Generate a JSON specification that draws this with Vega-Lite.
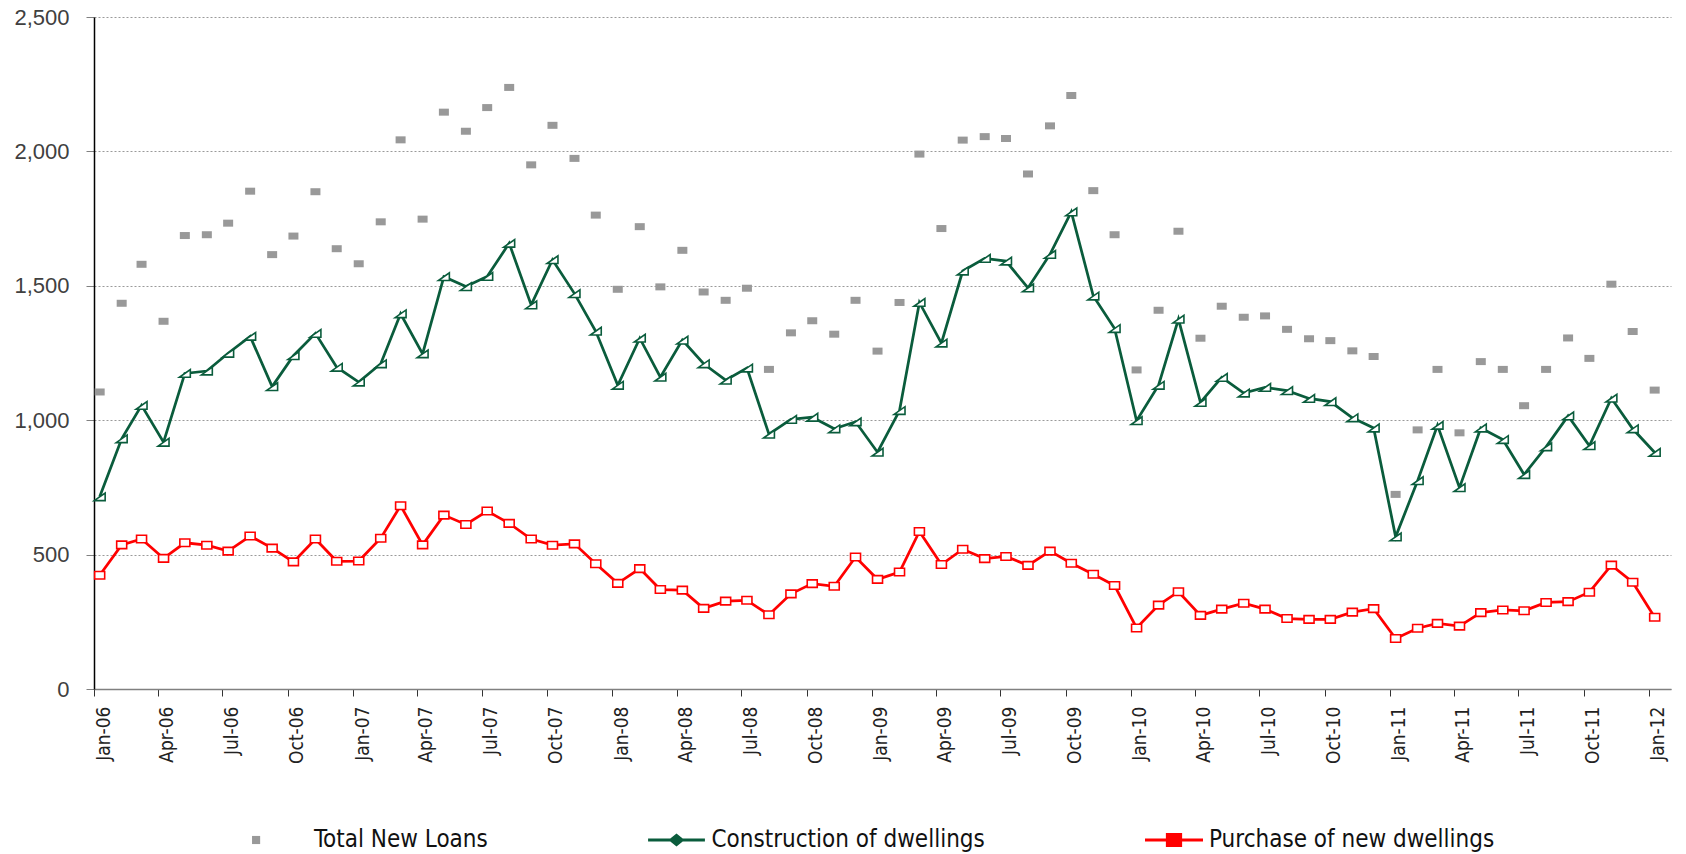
{
  "$schema": "https://vega.github.io/schema/vega-lite/v6.json",
  "width": 1577,
  "height": 672,
  "autosize": "none",
  "padding": {"left": 94, "top": 17, "right": 15, "bottom": 165},
  "background": "white",
  "config": {"view": {"stroke": null}, "font": "Liberation Sans"},
  "data": {"values": [
    {"date":"2006-01-09","series":"Total New Loans","value":1105},
    {"date":"2006-02-09","series":"Total New Loans","value":1435},
    {"date":"2006-03-09","series":"Total New Loans","value":1580},
    {"date":"2006-04-09","series":"Total New Loans","value":1368},
    {"date":"2006-05-09","series":"Total New Loans","value":1687},
    {"date":"2006-06-09","series":"Total New Loans","value":1690},
    {"date":"2006-07-09","series":"Total New Loans","value":1733},
    {"date":"2006-08-09","series":"Total New Loans","value":1852},
    {"date":"2006-09-09","series":"Total New Loans","value":1616},
    {"date":"2006-10-09","series":"Total New Loans","value":1685},
    {"date":"2006-11-09","series":"Total New Loans","value":1850},
    {"date":"2006-12-09","series":"Total New Loans","value":1638},
    {"date":"2007-01-09","series":"Total New Loans","value":1582},
    {"date":"2007-02-09","series":"Total New Loans","value":1738},
    {"date":"2007-03-09","series":"Total New Loans","value":2043},
    {"date":"2007-04-09","series":"Total New Loans","value":1748},
    {"date":"2007-05-09","series":"Total New Loans","value":2146},
    {"date":"2007-06-09","series":"Total New Loans","value":2075},
    {"date":"2007-07-09","series":"Total New Loans","value":2163},
    {"date":"2007-08-09","series":"Total New Loans","value":2238},
    {"date":"2007-09-09","series":"Total New Loans","value":1950},
    {"date":"2007-10-09","series":"Total New Loans","value":2097},
    {"date":"2007-11-09","series":"Total New Loans","value":1974},
    {"date":"2007-12-09","series":"Total New Loans","value":1763},
    {"date":"2008-01-09","series":"Total New Loans","value":1487},
    {"date":"2008-02-09","series":"Total New Loans","value":1720},
    {"date":"2008-03-09","series":"Total New Loans","value":1496},
    {"date":"2008-04-09","series":"Total New Loans","value":1632},
    {"date":"2008-05-09","series":"Total New Loans","value":1477},
    {"date":"2008-06-09","series":"Total New Loans","value":1446},
    {"date":"2008-07-09","series":"Total New Loans","value":1491},
    {"date":"2008-08-09","series":"Total New Loans","value":1189},
    {"date":"2008-09-09","series":"Total New Loans","value":1325},
    {"date":"2008-10-09","series":"Total New Loans","value":1370},
    {"date":"2008-11-09","series":"Total New Loans","value":1320},
    {"date":"2008-12-09","series":"Total New Loans","value":1446},
    {"date":"2009-01-09","series":"Total New Loans","value":1257},
    {"date":"2009-02-09","series":"Total New Loans","value":1438},
    {"date":"2009-03-09","series":"Total New Loans","value":1990},
    {"date":"2009-04-09","series":"Total New Loans","value":1713},
    {"date":"2009-05-09","series":"Total New Loans","value":2042},
    {"date":"2009-06-09","series":"Total New Loans","value":2055},
    {"date":"2009-07-09","series":"Total New Loans","value":2048},
    {"date":"2009-08-09","series":"Total New Loans","value":1916},
    {"date":"2009-09-09","series":"Total New Loans","value":2095},
    {"date":"2009-10-09","series":"Total New Loans","value":2208},
    {"date":"2009-11-09","series":"Total New Loans","value":1854},
    {"date":"2009-12-09","series":"Total New Loans","value":1690},
    {"date":"2010-01-09","series":"Total New Loans","value":1187},
    {"date":"2010-02-09","series":"Total New Loans","value":1409},
    {"date":"2010-03-09","series":"Total New Loans","value":1703},
    {"date":"2010-04-09","series":"Total New Loans","value":1305},
    {"date":"2010-05-09","series":"Total New Loans","value":1424},
    {"date":"2010-06-09","series":"Total New Loans","value":1383},
    {"date":"2010-07-09","series":"Total New Loans","value":1388},
    {"date":"2010-08-09","series":"Total New Loans","value":1338},
    {"date":"2010-09-09","series":"Total New Loans","value":1303},
    {"date":"2010-10-09","series":"Total New Loans","value":1296},
    {"date":"2010-11-09","series":"Total New Loans","value":1258},
    {"date":"2010-12-09","series":"Total New Loans","value":1237},
    {"date":"2011-01-09","series":"Total New Loans","value":724},
    {"date":"2011-02-09","series":"Total New Loans","value":964},
    {"date":"2011-03-09","series":"Total New Loans","value":1189},
    {"date":"2011-04-09","series":"Total New Loans","value":953},
    {"date":"2011-05-09","series":"Total New Loans","value":1218},
    {"date":"2011-06-09","series":"Total New Loans","value":1189},
    {"date":"2011-07-09","series":"Total New Loans","value":1054},
    {"date":"2011-08-09","series":"Total New Loans","value":1189},
    {"date":"2011-09-09","series":"Total New Loans","value":1306},
    {"date":"2011-10-09","series":"Total New Loans","value":1230},
    {"date":"2011-11-09","series":"Total New Loans","value":1506},
    {"date":"2011-12-09","series":"Total New Loans","value":1330},
    {"date":"2012-01-09","series":"Total New Loans","value":1112},
    {"date":"2006-01-09","series":"Construction of dwellings","value":715},
    {"date":"2006-02-09","series":"Construction of dwellings","value":931},
    {"date":"2006-03-09","series":"Construction of dwellings","value":1055},
    {"date":"2006-04-09","series":"Construction of dwellings","value":918},
    {"date":"2006-05-09","series":"Construction of dwellings","value":1174},
    {"date":"2006-06-09","series":"Construction of dwellings","value":1183},
    {"date":"2006-07-09","series":"Construction of dwellings","value":1249},
    {"date":"2006-08-09","series":"Construction of dwellings","value":1312},
    {"date":"2006-09-09","series":"Construction of dwellings","value":1125},
    {"date":"2006-10-09","series":"Construction of dwellings","value":1240},
    {"date":"2006-11-09","series":"Construction of dwellings","value":1323},
    {"date":"2006-12-09","series":"Construction of dwellings","value":1197},
    {"date":"2007-01-09","series":"Construction of dwellings","value":1142},
    {"date":"2007-02-09","series":"Construction of dwellings","value":1210},
    {"date":"2007-03-09","series":"Construction of dwellings","value":1396},
    {"date":"2007-04-09","series":"Construction of dwellings","value":1247},
    {"date":"2007-05-09","series":"Construction of dwellings","value":1534},
    {"date":"2007-06-09","series":"Construction of dwellings","value":1497},
    {"date":"2007-07-09","series":"Construction of dwellings","value":1535},
    {"date":"2007-08-09","series":"Construction of dwellings","value":1658},
    {"date":"2007-09-09","series":"Construction of dwellings","value":1429},
    {"date":"2007-10-09","series":"Construction of dwellings","value":1597},
    {"date":"2007-11-09","series":"Construction of dwellings","value":1471},
    {"date":"2007-12-09","series":"Construction of dwellings","value":1331},
    {"date":"2008-01-09","series":"Construction of dwellings","value":1130},
    {"date":"2008-02-09","series":"Construction of dwellings","value":1305},
    {"date":"2008-03-09","series":"Construction of dwellings","value":1160},
    {"date":"2008-04-09","series":"Construction of dwellings","value":1298},
    {"date":"2008-05-09","series":"Construction of dwellings","value":1210},
    {"date":"2008-06-09","series":"Construction of dwellings","value":1149},
    {"date":"2008-07-09","series":"Construction of dwellings","value":1194},
    {"date":"2008-08-09","series":"Construction of dwellings","value":948},
    {"date":"2008-09-09","series":"Construction of dwellings","value":1003},
    {"date":"2008-10-09","series":"Construction of dwellings","value":1011},
    {"date":"2008-11-09","series":"Construction of dwellings","value":968},
    {"date":"2008-12-09","series":"Construction of dwellings","value":994},
    {"date":"2009-01-09","series":"Construction of dwellings","value":881},
    {"date":"2009-02-09","series":"Construction of dwellings","value":1036},
    {"date":"2009-03-09","series":"Construction of dwellings","value":1438},
    {"date":"2009-04-09","series":"Construction of dwellings","value":1287},
    {"date":"2009-05-09","series":"Construction of dwellings","value":1555},
    {"date":"2009-06-09","series":"Construction of dwellings","value":1602},
    {"date":"2009-07-09","series":"Construction of dwellings","value":1592},
    {"date":"2009-08-09","series":"Construction of dwellings","value":1492},
    {"date":"2009-09-09","series":"Construction of dwellings","value":1617},
    {"date":"2009-10-09","series":"Construction of dwellings","value":1775},
    {"date":"2009-11-09","series":"Construction of dwellings","value":1462},
    {"date":"2009-12-09","series":"Construction of dwellings","value":1341},
    {"date":"2010-01-09","series":"Construction of dwellings","value":998},
    {"date":"2010-02-09","series":"Construction of dwellings","value":1130},
    {"date":"2010-03-09","series":"Construction of dwellings","value":1376},
    {"date":"2010-04-09","series":"Construction of dwellings","value":1066},
    {"date":"2010-05-09","series":"Construction of dwellings","value":1159},
    {"date":"2010-06-09","series":"Construction of dwellings","value":1101},
    {"date":"2010-07-09","series":"Construction of dwellings","value":1122},
    {"date":"2010-08-09","series":"Construction of dwellings","value":1110},
    {"date":"2010-09-09","series":"Construction of dwellings","value":1081},
    {"date":"2010-10-09","series":"Construction of dwellings","value":1069},
    {"date":"2010-11-09","series":"Construction of dwellings","value":1009},
    {"date":"2010-12-09","series":"Construction of dwellings","value":971},
    {"date":"2011-01-09","series":"Construction of dwellings","value":566},
    {"date":"2011-02-09","series":"Construction of dwellings","value":775},
    {"date":"2011-03-09","series":"Construction of dwellings","value":981},
    {"date":"2011-04-09","series":"Construction of dwellings","value":749},
    {"date":"2011-05-09","series":"Construction of dwellings","value":971},
    {"date":"2011-06-09","series":"Construction of dwellings","value":928},
    {"date":"2011-07-09","series":"Construction of dwellings","value":798},
    {"date":"2011-08-09","series":"Construction of dwellings","value":901},
    {"date":"2011-09-09","series":"Construction of dwellings","value":1016},
    {"date":"2011-10-09","series":"Construction of dwellings","value":905},
    {"date":"2011-11-09","series":"Construction of dwellings","value":1082},
    {"date":"2011-12-09","series":"Construction of dwellings","value":968},
    {"date":"2012-01-09","series":"Construction of dwellings","value":880},
    {"date":"2006-01-09","series":"Purchase of new dwellings","value":423},
    {"date":"2006-02-09","series":"Purchase of new dwellings","value":536},
    {"date":"2006-03-09","series":"Purchase of new dwellings","value":558},
    {"date":"2006-04-09","series":"Purchase of new dwellings","value":486},
    {"date":"2006-05-09","series":"Purchase of new dwellings","value":544},
    {"date":"2006-06-09","series":"Purchase of new dwellings","value":535},
    {"date":"2006-07-09","series":"Purchase of new dwellings","value":513},
    {"date":"2006-08-09","series":"Purchase of new dwellings","value":569},
    {"date":"2006-09-09","series":"Purchase of new dwellings","value":524},
    {"date":"2006-10-09","series":"Purchase of new dwellings","value":473},
    {"date":"2006-11-09","series":"Purchase of new dwellings","value":558},
    {"date":"2006-12-09","series":"Purchase of new dwellings","value":475},
    {"date":"2007-01-09","series":"Purchase of new dwellings","value":476},
    {"date":"2007-02-09","series":"Purchase of new dwellings","value":561},
    {"date":"2007-03-09","series":"Purchase of new dwellings","value":682},
    {"date":"2007-04-09","series":"Purchase of new dwellings","value":536},
    {"date":"2007-05-09","series":"Purchase of new dwellings","value":647},
    {"date":"2007-06-09","series":"Purchase of new dwellings","value":612},
    {"date":"2007-07-09","series":"Purchase of new dwellings","value":662},
    {"date":"2007-08-09","series":"Purchase of new dwellings","value":616},
    {"date":"2007-09-09","series":"Purchase of new dwellings","value":558},
    {"date":"2007-10-09","series":"Purchase of new dwellings","value":535},
    {"date":"2007-11-09","series":"Purchase of new dwellings","value":540},
    {"date":"2007-12-09","series":"Purchase of new dwellings","value":466},
    {"date":"2008-01-09","series":"Purchase of new dwellings","value":393},
    {"date":"2008-02-09","series":"Purchase of new dwellings","value":448},
    {"date":"2008-03-09","series":"Purchase of new dwellings","value":370},
    {"date":"2008-04-09","series":"Purchase of new dwellings","value":368},
    {"date":"2008-05-09","series":"Purchase of new dwellings","value":300},
    {"date":"2008-06-09","series":"Purchase of new dwellings","value":327},
    {"date":"2008-07-09","series":"Purchase of new dwellings","value":330},
    {"date":"2008-08-09","series":"Purchase of new dwellings","value":276},
    {"date":"2008-09-09","series":"Purchase of new dwellings","value":354},
    {"date":"2008-10-09","series":"Purchase of new dwellings","value":392},
    {"date":"2008-11-09","series":"Purchase of new dwellings","value":382},
    {"date":"2008-12-09","series":"Purchase of new dwellings","value":491},
    {"date":"2009-01-09","series":"Purchase of new dwellings","value":408},
    {"date":"2009-02-09","series":"Purchase of new dwellings","value":435},
    {"date":"2009-03-09","series":"Purchase of new dwellings","value":586},
    {"date":"2009-04-09","series":"Purchase of new dwellings","value":463},
    {"date":"2009-05-09","series":"Purchase of new dwellings","value":520},
    {"date":"2009-06-09","series":"Purchase of new dwellings","value":485},
    {"date":"2009-07-09","series":"Purchase of new dwellings","value":493},
    {"date":"2009-08-09","series":"Purchase of new dwellings","value":460},
    {"date":"2009-09-09","series":"Purchase of new dwellings","value":513},
    {"date":"2009-10-09","series":"Purchase of new dwellings","value":468},
    {"date":"2009-11-09","series":"Purchase of new dwellings","value":427},
    {"date":"2009-12-09","series":"Purchase of new dwellings","value":385},
    {"date":"2010-01-09","series":"Purchase of new dwellings","value":227},
    {"date":"2010-02-09","series":"Purchase of new dwellings","value":312},
    {"date":"2010-03-09","series":"Purchase of new dwellings","value":362},
    {"date":"2010-04-09","series":"Purchase of new dwellings","value":274},
    {"date":"2010-05-09","series":"Purchase of new dwellings","value":297},
    {"date":"2010-06-09","series":"Purchase of new dwellings","value":319},
    {"date":"2010-07-09","series":"Purchase of new dwellings","value":297},
    {"date":"2010-08-09","series":"Purchase of new dwellings","value":262},
    {"date":"2010-09-09","series":"Purchase of new dwellings","value":259},
    {"date":"2010-10-09","series":"Purchase of new dwellings","value":259},
    {"date":"2010-11-09","series":"Purchase of new dwellings","value":286},
    {"date":"2010-12-09","series":"Purchase of new dwellings","value":299},
    {"date":"2011-01-09","series":"Purchase of new dwellings","value":188},
    {"date":"2011-02-09","series":"Purchase of new dwellings","value":226},
    {"date":"2011-03-09","series":"Purchase of new dwellings","value":244},
    {"date":"2011-04-09","series":"Purchase of new dwellings","value":234},
    {"date":"2011-05-09","series":"Purchase of new dwellings","value":284},
    {"date":"2011-06-09","series":"Purchase of new dwellings","value":294},
    {"date":"2011-07-09","series":"Purchase of new dwellings","value":291},
    {"date":"2011-08-09","series":"Purchase of new dwellings","value":322},
    {"date":"2011-09-09","series":"Purchase of new dwellings","value":325},
    {"date":"2011-10-09","series":"Purchase of new dwellings","value":360},
    {"date":"2011-11-09","series":"Purchase of new dwellings","value":461},
    {"date":"2011-12-09","series":"Purchase of new dwellings","value":397},
    {"date":"2012-01-09","series":"Purchase of new dwellings","value":267}
  ]},
  "encoding": {
    "x": {
      "field": "date", "type": "temporal",
      "scale": {"type": "utc", "domain": [{"year": 2006, "month": 1, "date": 1, "utc": true}, {"year": 2012, "month": 2, "date": 1, "utc": true}]},
      "axis": {
        "title": null, "grid": false, "format": "%b-%y",
        "tickCount": {"interval": "month", "step": 3},
        "labelAngle": 270, "labelAlign": "right", "labelBaseline": "top",
        "labelPadding": 10, "labelFont": "DejaVu Sans Condensed, Liberation Sans, sans-serif", "labelFontSize": 19, "labelColor": "#222222",
        "tickSize": 7, "tickColor": "#333333", "tickWidth": 1,
        "domainColor": "#808080", "domainWidth": 1.5, "labelOverlap": false, "labelFlush": false
      }
    },
    "y": {
      "field": "value", "type": "quantitative",
      "scale": {"domain": [0, 2500], "nice": false, "zero": true},
      "axis": {
        "title": null, "values": [0, 500, 1000, 1500, 2000, 2500], "format": ",d",
        "grid": true, "gridColor": "#9a9a9a", "gridDash": [2, 2], "gridWidth": 1,
        "labelFont": "Liberation Sans", "labelFontSize": 22, "labelColor": "#404040", "labelPadding": 17,
        "tickSize": 8, "tickColor": "#808080", "domainColor": "#000000", "domainWidth": 1.5
      }
    }
  },
  "layer": [
    {
      "transform": [{"filter": "false"}],
      "mark": {"type": "point", "filled": true, "opacity": 1, "strokeWidth": 0},
      "encoding": {
        "color": {
          "field": "series", "type": "nominal",
          "scale": {"domain": ["Total New Loans", "Construction of dwellings", "Purchase of new dwellings"], "range": ["#999999", "#0a5c3c", "#ff0000"]},
          "legend": {
            "title": null, "orient": "none", "legendX": 156, "legendY": 794, "direction": "horizontal",
            "symbolSize": 3364, "symbolStrokeWidth": 0, "symbolOpacity": 1,
            "labelFont": "DejaVu Sans Condensed, Liberation Sans, sans-serif", "labelFontSize": 24, "labelColor": "#111111",
            "labelOffset": 6, "columnPadding": 159.5, "labelLimit": 0
          }
        },
        "shape": {
          "field": "series", "type": "nominal",
          "scale": {"domain": ["Total New Loans", "Construction of dwellings", "Purchase of new dwellings"], "range": [
            "M-0.93,-0.14L-0.65,-0.14L-0.65,0.14L-0.93,0.14Z",
            "M-0.98,-0.052L-0.214,-0.052L0,-0.22L0.214,-0.052L0.98,-0.052L0.98,0.052L0.214,0.052L0,0.22L-0.214,0.052L-0.98,0.052Z",
            "M-1,-0.052L-0.28,-0.052L-0.28,-0.24L0.28,-0.24L0.28,-0.052L1,-0.052L1,0.052L0.28,0.052L0.28,0.24L-0.28,0.24L-0.28,0.052L-1,0.052Z"
          ]},
          "legend": {
            "title": null, "orient": "none", "legendX": 156, "legendY": 794, "direction": "horizontal",
            "symbolSize": 3364, "symbolStrokeWidth": 0, "symbolOpacity": 1,
            "labelFont": "DejaVu Sans Condensed, Liberation Sans, sans-serif", "labelFontSize": 24, "labelColor": "#111111",
            "labelOffset": 6, "columnPadding": 159.5, "labelLimit": 0
          }
        }
      }
    },
    {
      "transform": [{"filter": "datum.series === 'Total New Loans'"}],
      "mark": {"type": "point", "shape": "M-1,-0.7L1,-0.7L1,0.7L-1,0.7Z", "filled": true, "size": 100, "opacity": 1, "color": "#999999"},
      "encoding": {}
    },
    {
      "transform": [{"filter": "datum.series === 'Construction of dwellings'"}],
      "mark": {"type": "line", "strokeWidth": 2.75, "color": "#0a5c3c"},
      "encoding": {}
    },
    {
      "transform": [{"filter": "datum.series === 'Purchase of new dwellings'"}],
      "mark": {"type": "line", "strokeWidth": 2.75, "color": "#ff0000"},
      "encoding": {}
    },
    {
      "transform": [{"filter": "datum.series === 'Construction of dwellings'"}],
      "mark": {"type": "point", "shape": "M-1,0.7L1,0.7L1,-0.7Z", "filled": false, "fill": "white", "fillOpacity": 1, "stroke": "#0a5c3c", "strokeWidth": 1.6, "size": 120, "opacity": 1},
      "encoding": {}
    },
    {
      "transform": [{"filter": "datum.series === 'Purchase of new dwellings'"}],
      "mark": {"type": "point", "shape": "M-1,-0.75L1,-0.75L1,0.75L-1,0.75Z", "filled": false, "fill": "white", "fillOpacity": 1, "stroke": "#ff0000", "strokeWidth": 1.6, "size": 100, "opacity": 1},
      "encoding": {}
    }
  ]
}
